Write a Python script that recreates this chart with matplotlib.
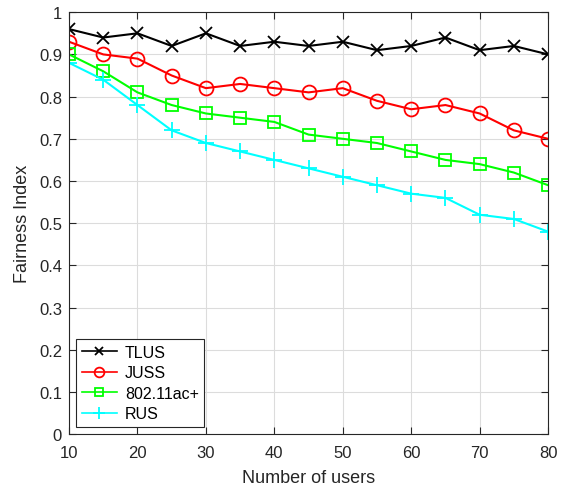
import numpy as np
import matplotlib
matplotlib.use('Agg')
import matplotlib.pyplot as plt

plt.rcParams['font.family'] = ['Liberation Sans', 'DejaVu Sans']

users = [10, 15, 20, 25, 30, 35, 40, 45, 50, 55, 60, 65, 70, 75, 80]
tlus = [0.96, 0.94, 0.95, 0.92, 0.95, 0.92, 0.93, 0.92, 0.93, 0.91, 0.92, 0.94, 0.91, 0.92, 0.90]
juss = [0.93, 0.90, 0.89, 0.85, 0.82, 0.83, 0.82, 0.81, 0.82, 0.79, 0.77, 0.78, 0.76, 0.72, 0.70]
ac_plus = [0.90, 0.86, 0.81, 0.78, 0.76, 0.75, 0.74, 0.71, 0.70, 0.69, 0.67, 0.65, 0.64, 0.62, 0.59]
rus = [0.88, 0.84, 0.78, 0.72, 0.69, 0.67, 0.65, 0.63, 0.61, 0.59, 0.57, 0.56, 0.52, 0.51, 0.48]

fig = plt.figure(figsize=(5.68, 4.89), dpi=100)
ax = fig.add_axes([0.1215, 0.110, 0.8435, 0.863])

# series
ax.plot(users, tlus, color='k', marker='x', markersize=9, markeredgewidth=1.3, linewidth=1.5, label='TLUS')
ax.plot(users, juss, color='r', marker='o', markersize=10, markerfacecolor='none', markeredgewidth=1.3, linewidth=1.5, label='JUSS')
ax.plot(users, ac_plus, color=(0, 1, 0), marker='s', markersize=8, markerfacecolor='none', markeredgewidth=1.3, linewidth=1.5, label='802.11ac+')
ax.plot(users, rus, color=(0, 1, 1), marker='+', markersize=12, markeredgewidth=1.3, linewidth=1.5, label='RUS')

ax.set_xlim(10, 80)
ax.set_ylim(0, 1)
ax.set_xticks(np.arange(10, 81, 10))
ax.set_yticks(np.arange(0, 1.01, 0.1))
ax.set_yticklabels(['0', '0.1', '0.2', '0.3', '0.4', '0.5', '0.6', '0.7', '0.8', '0.9', '1'])

# matlab look
ax.grid(True, color='#dcdcdc', linewidth=0.8)
ax.set_axisbelow(True)
ax.tick_params(direction='in', top=True, right=True, labelsize=12, length=5, colors='#262626')
ax.tick_params(axis='x', pad=8)
ax.tick_params(axis='y', pad=5)
for s in ax.spines.values():
    s.set_color('#262626')
    s.set_linewidth(0.8)

ax.set_xlabel('Number of users', fontsize=13, color='#262626', labelpad=6)
ax.set_ylabel('Fairness Index', fontsize=13, color='#262626', labelpad=6)

leg = ax.legend(loc='lower left', fontsize=11.5, fancybox=False, framealpha=1,
                edgecolor='#262626', borderaxespad=0.45, handlelength=2.2,
                labelspacing=0.35, markerscale=0.7, borderpad=0.35, handletextpad=0.5)
leg.get_frame().set_linewidth(0.8)
for line in leg.get_lines():
    line.set_linewidth(1.2)

fig.savefig('out.png', dpi=100)
